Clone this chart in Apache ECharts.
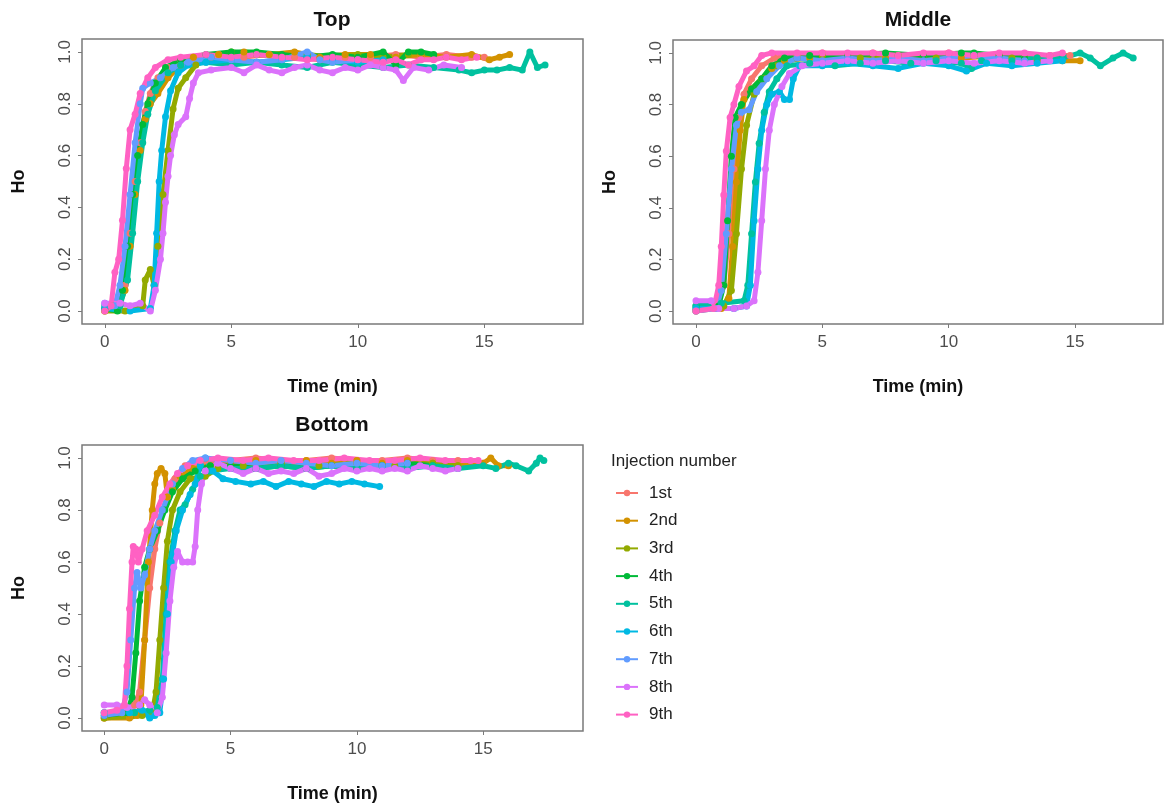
<!DOCTYPE html>
<html>
<head>
<meta charset="utf-8">
<script src="https://cdn.jsdelivr.net/npm/echarts@6.0.0/dist/echarts.min.js"></script>
<style>
  html, body { margin: 0; padding: 0; background: #fff; }
  #chart { width: 1165px; height: 806px; }
</style>
</head>
<body>
<div id="chart"></div>
<script>
// injection labels and ggplot hue colours
const names = ['1st', '2nd', '3rd', '4th', '5th', '6th', '7th', '8th', '9th']
const colors = ['#F8766D', '#D39200', '#93AA00', '#00BA38', '#00C19F', '#00B9E3', '#619CFF', '#DB72FB', '#FF61C3']
const xTicks = [0, 5, 10, 15]
const yTicks = [0, 0.2, 0.4, 0.6, 0.8, 1.0]

// ---- Top ----  [time (min), Ho]
const top1 = [[0,0.01],[0.3,0.02],[0.6,0.03],[0.8,0.1],[1.0,0.3],[1.2,0.5],[1.4,0.65],[1.6,0.77],[1.8,0.84],[2.1,0.9],[2.5,0.94],[3.0,0.97],[3.5,0.98],[4.5,0.99],[5.5,0.98],[6.5,0.99],[7.5,0.98],[8.5,0.97],[9.5,0.98],[10.5,0.98],[11.5,0.99],[12.5,0.98],[13.5,0.99],[14.5,0.98],[15.0,0.98]]
const top2 = [[0,0],[0.5,0.01],[0.8,0.08],[1.0,0.25],[1.2,0.45],[1.4,0.62],[1.6,0.74],[1.8,0.8],[2.1,0.84],[2.5,0.9],[3.0,0.95],[3.5,0.98],[4.5,0.99],[5.5,1.0],[6.5,0.99],[7.5,1.0],[8.5,0.98],[9.5,0.99],[10.5,0.99],[11.5,0.98],[12.5,0.99],[13.5,0.98],[14.5,0.99],[15.2,0.97],[15.6,0.98],[16.0,0.99]]
const top3 = [[0,0],[0.8,0],[1.5,0.02],[1.6,0.12],[1.8,0.16],[1.95,0.1],[2.1,0.25],[2.3,0.45],[2.5,0.62],[2.7,0.78],[2.9,0.86],[3.2,0.9],[3.6,0.95],[4.2,0.98],[5,1.0],[6,0.99],[7,0.98],[8,0.99],[9,0.98],[10,0.99],[11,0.98],[12,0.99]]
const top4 = [[0,0.01],[0.5,0.0],[0.7,0.08],[0.9,0.25],[1.1,0.45],[1.3,0.6],[1.5,0.72],[1.7,0.8],[2.0,0.88],[2.4,0.94],[3.0,0.97],[4.0,0.99],[5.0,1.0],[6.0,1.0],[7.0,0.99],[8.0,0.98],[9.0,0.99],[10.0,0.98],[11.0,1.0],[11.5,0.95],[12.0,1.0],[12.5,1.0],[13.0,0.99]]
const top5 = [[0,0.02],[0.6,0.02],[0.9,0.12],[1.1,0.3],[1.3,0.5],[1.5,0.65],[1.7,0.76],[2.0,0.85],[2.5,0.92],[3.0,0.95],[4,0.96],[5,0.95],[6,0.96],[7,0.95],[8,0.94],[9,0.96],[10,0.95],[11,0.94],[12,0.95],[13,0.94],[14,0.93],[14.5,0.92],[15,0.93],[15.5,0.93],[16,0.94],[16.5,0.93],[16.8,1.0],[17.1,0.94],[17.4,0.95]]
const top6 = [[0,0.01],[1.0,0.0],[1.8,0.01],[1.95,0.1],[2.05,0.3],[2.15,0.5],[2.25,0.62],[2.4,0.75],[2.6,0.85],[2.9,0.92],[3.3,0.95],[4,0.96],[5,0.97],[6,0.96],[7,0.97],[8,0.98],[9,0.97],[10,0.96],[11,0.97]]
const top7 = [[0,0.03],[0.4,0.02],[0.6,0.1],[0.8,0.25],[1.0,0.45],[1.2,0.65],[1.4,0.8],[1.5,0.86],[1.8,0.88],[2.2,0.9],[2.7,0.94],[3.3,0.96],[4.2,0.98],[5,0.97],[6,0.96],[7,0.97],[8,1.0],[8.5,0.97],[9,0.96],[10,0.97]]
const top8 = [[0,0.03],[0.6,0.03],[1.0,0.02],[1.4,0.03],[1.8,0.0],[2.0,0.08],[2.2,0.2],[2.3,0.3],[2.4,0.42],[2.5,0.52],[2.6,0.6],[2.75,0.68],[2.9,0.72],[3.2,0.75],[3.35,0.82],[3.5,0.88],[3.7,0.92],[4.2,0.93],[5,0.94],[5.5,0.92],[6,0.95],[6.5,0.93],[7,0.92],[7.5,0.94],[8,0.95],[8.5,0.93],[9,0.92],[9.5,0.94],[10,0.93],[10.5,0.95],[11,0.94],[11.5,0.93],[11.8,0.89],[12.2,0.94],[12.8,0.93],[13.4,0.95],[14.1,0.94]]
const top9 = [[0,0.0],[0.25,0.02],[0.4,0.15],[0.55,0.2],[0.7,0.35],[0.85,0.55],[1.0,0.7],[1.2,0.76],[1.4,0.84],[1.7,0.9],[2.0,0.94],[2.5,0.97],[3,0.98],[4,0.99],[5,0.98],[6,0.99],[7,0.98],[8,0.97],[9,0.98],[10,0.97],[11,0.96],[11.5,0.97],[12,0.95],[12.5,0.97],[13,0.97],[13.5,0.98],[14.1,0.97],[14.7,0.98]]

// ---- Middle ----
const mid1 = [[0,0.0],[0.8,0.01],[1.1,0.1],[1.3,0.3],[1.5,0.55],[1.7,0.75],[1.9,0.84],[2.2,0.9],[2.6,0.95],[3.1,0.98],[4,0.99],[5,1.0],[6,0.99],[7,1.0],[8,0.99],[9,0.99],[10,1.0],[11,0.99],[12,0.99],[13,0.98],[14,0.99],[14.8,0.99]]
const mid2 = [[0,0.01],[1.0,0.01],[1.3,0.05],[1.45,0.25],[1.6,0.5],[1.75,0.7],[1.9,0.82],[2.2,0.86],[2.6,0.9],[3.0,0.94],[3.5,0.97],[4.5,0.98],[6,0.99],[7.5,0.98],[9,0.99],[10.5,0.98],[12,0.99],[13.5,0.98],[14.5,0.97],[15.2,0.97]]
const mid3 = [[0,0.0],[1.1,0.02],[1.4,0.08],[1.6,0.3],[1.8,0.55],[2.0,0.72],[2.3,0.84],[2.7,0.9],[3.2,0.95],[4,0.98],[5,0.99],[6.5,0.98],[8,0.99],[9.5,0.98],[11,0.99],[12.5,0.98],[13.5,0.97]]
const mid4 = [[0,0.02],[0.9,0.02],[1.1,0.1],[1.25,0.35],[1.4,0.6],[1.55,0.75],[1.8,0.8],[2.2,0.86],[2.6,0.9],[3.0,0.95],[3.5,0.98],[4.5,0.99],[6,0.99],[7.5,1.0],[9,0.99],[10.5,1.0],[11,1.0],[12,0.99],[13,0.98]]
const mid5 = [[0,0.02],[1.0,0.03],[1.9,0.04],[2.05,0.1],[2.2,0.3],[2.35,0.5],[2.5,0.65],[2.7,0.77],[2.9,0.85],[3.2,0.9],[3.6,0.95],[4.5,0.96],[5.5,0.95],[6.5,0.96],[7.5,0.97],[8.5,0.96],[9.5,0.97],[10.5,0.96],[10.9,0.94],[11.3,0.97],[12.5,0.97],[13.5,0.98],[14.5,0.98],[15.2,1.0],[15.6,0.98],[16.0,0.95],[16.5,0.98],[16.9,1.0],[17.3,0.98]]
const mid6 = [[0,0.01],[1.5,0.01],[2.0,0.02],[2.15,0.1],[2.3,0.35],[2.45,0.55],[2.6,0.7],[2.8,0.8],[3.0,0.84],[3.3,0.85],[3.5,0.82],[3.7,0.82],[3.85,0.9],[4.1,0.95],[5,0.95],[6,0.96],[7,0.95],[8,0.94],[9,0.96],[10,0.95],[10.7,0.93],[11.5,0.96],[12.5,0.95],[13.5,0.96],[14.5,0.97]]
const mid7 = [[0,0.0],[0.8,0.01],[1.0,0.08],[1.2,0.3],[1.4,0.55],[1.6,0.72],[1.8,0.77],[2.1,0.78],[2.4,0.85],[2.8,0.9],[3.3,0.95],[4,0.98],[5,0.97],[6,0.98],[7,0.97],[8,0.98],[9,0.97],[10,0.98],[11,0.99],[12,0.98],[13,0.97]]
const mid8 = [[0,0.04],[0.6,0.04],[0.9,0.01],[1.5,0.01],[2.0,0.02],[2.3,0.04],[2.45,0.15],[2.6,0.35],[2.75,0.55],[2.9,0.7],[3.1,0.8],[3.4,0.87],[3.7,0.92],[4.2,0.95],[5,0.96],[6,0.97],[7,0.96],[8,0.97],[9,0.96],[10,0.97],[11,0.96],[12,0.97],[13,0.96],[14,0.97]]
const mid9 = [[0,0.0],[0.7,0.01],[0.9,0.1],[1.0,0.25],[1.1,0.45],[1.2,0.62],[1.35,0.75],[1.5,0.8],[1.7,0.87],[2.0,0.93],[2.3,0.95],[2.6,0.99],[3,1.0],[4,1.0],[5,1.0],[6,1.0],[7,1.0],[8,0.99],[9,1.0],[10,1.0],[11,0.99],[12,1.0],[13,1.0],[14,0.99],[14.5,1.0]]

// ---- Bottom ----
const bot1 = [[0,0.0],[1.0,0.01],[1.2,0.05],[1.4,0.1],[1.6,0.3],[1.8,0.5],[2.0,0.65],[2.2,0.75],[2.5,0.85],[2.8,0.92],[3.2,0.97],[4,0.99],[5,0.99],[6,1.0],[7,0.99],[8,0.99],[9,1.0],[10,0.99],[11,0.99],[12,1.0],[13,0.99],[14,0.99],[15,0.98]]
const bot2 = [[0,0.0],[1.0,0.0],[1.3,0.01],[1.45,0.05],[1.6,0.3],[1.75,0.6],[1.9,0.8],[2.0,0.9],[2.1,0.94],[2.25,0.96],[2.4,0.94],[2.5,0.85],[2.7,0.88],[3.0,0.93],[3.5,0.96],[4.2,0.97],[5,0.98],[6,0.99],[7,0.98],[8,0.99],[9,0.98],[10,0.99],[11,0.98],[12,0.99],[13,0.98],[14,0.97],[15,0.98],[15.3,1.0],[15.6,0.97],[16.0,0.97]]
const bot3 = [[0,0.0],[1.5,0.01],[1.9,0.02],[2.05,0.1],[2.2,0.3],[2.35,0.5],[2.5,0.68],[2.7,0.8],[3.0,0.87],[3.4,0.92],[4,0.93],[4.5,0.96],[5.5,0.97],[7,0.98],[8.5,0.97],[10,0.98],[11.5,0.97],[13,0.98],[14,0.97]]
const bot4 = [[0,0.01],[0.9,0.02],[1.1,0.08],[1.25,0.25],[1.4,0.45],[1.6,0.58],[1.8,0.65],[2.1,0.72],[2.4,0.8],[2.7,0.87],[3.1,0.92],[3.6,0.95],[4.2,0.97],[5,0.97],[6,0.96],[7,0.97],[8,0.96],[9,0.97],[10,0.96],[11,0.97],[12,0.98],[13,0.97]]
const bot5 = [[0,0.02],[1.2,0.02],[1.8,0.03],[2.1,0.04],[2.3,0.15],[2.45,0.4],[2.6,0.6],[2.8,0.72],[3.0,0.8],[3.2,0.82],[3.5,0.88],[3.8,0.93],[4.2,0.95],[5,0.96],[6,0.96],[7,0.97],[8,0.96],[9,0.97],[10,0.96],[11,0.97],[12,0.96],[13,0.97],[14,0.96],[15,0.97],[15.5,0.96],[16,0.98],[16.3,0.97],[16.8,0.95],[17.1,0.98],[17.25,1.0],[17.4,0.99]]
const bot6 = [[0,0.02],[1.0,0.02],[1.5,0.03],[1.8,0.0],[2.0,0.01],[2.2,0.02],[2.35,0.15],[2.5,0.4],[2.65,0.6],[2.85,0.72],[3.1,0.8],[3.4,0.86],[3.6,0.9],[3.8,0.97],[4.0,1.0],[4.3,0.95],[4.7,0.92],[5.2,0.91],[5.8,0.9],[6.3,0.91],[6.8,0.89],[7.3,0.91],[7.8,0.9],[8.3,0.89],[8.8,0.91],[9.3,0.9],[9.8,0.91],[10.3,0.9],[10.9,0.89]]
const bot7 = [[0,0.01],[0.7,0.02],[0.9,0.1],[1.05,0.3],[1.2,0.5],[1.3,0.56],[1.45,0.5],[1.6,0.55],[1.8,0.65],[2.0,0.72],[2.3,0.8],[2.7,0.9],[3.1,0.96],[3.5,0.99],[4,1.0],[5,0.99],[6,0.98],[7,0.99],[8,0.98],[9,0.97],[10,0.98],[11,0.97],[12,0.98]]
const bot8 = [[0,0.05],[0.5,0.05],[0.9,0.04],[1.4,0.05],[1.6,0.07],[1.8,0.05],[2.1,0.02],[2.3,0.08],[2.45,0.25],[2.6,0.45],[2.75,0.58],[2.9,0.64],[3.1,0.6],[3.3,0.6],[3.5,0.6],[3.6,0.66],[3.7,0.8],[3.85,0.9],[4.0,0.95],[4.5,0.98],[5,0.96],[5.5,0.94],[6,0.96],[6.5,0.94],[7,0.95],[7.5,0.94],[8,0.96],[8.5,0.93],[9,0.94],[9.5,0.96],[10,0.95],[10.5,0.96],[11,0.95],[11.5,0.96],[12,0.95],[12.5,0.97],[13,0.96],[13.5,0.95],[14,0.96]]
const bot9 = [[0,0.02],[0.5,0.03],[0.8,0.05],[0.9,0.2],[1.0,0.42],[1.1,0.6],[1.15,0.66],[1.25,0.65],[1.35,0.6],[1.5,0.65],[1.7,0.72],[2.0,0.78],[2.3,0.85],[2.6,0.9],[2.9,0.94],[3.3,0.97],[3.8,0.99],[4.5,1.0],[5.5,0.99],[6.5,1.0],[7.5,0.99],[8.5,0.99],[9.5,1.0],[10.5,0.99],[11.5,0.99],[12.5,1.0],[13.5,0.99],[14.5,0.99],[14.8,0.99]]

const panels = [
  [top1, top2, top3, top4, top5, top6, top7, top8, top9],
  [mid1, mid2, mid3, mid4, mid5, mid6, mid7, mid8, mid9],
  [bot1, bot2, bot3, bot4, bot5, bot6, bot7, bot8, bot9],
]

const font = '"Liberation Sans", Arial, sans-serif'
const boxColor = '#7a7a7a'
const tickColor = '#4d4d4d'

const grids = [
  { left: 82, top: 39, width: 501, height: 285 },
  { left: 673, top: 40, width: 490, height: 284 },
  { left: 82, top: 445, width: 501, height: 286 },
]
const xRanges = [[-0.9, 18.9], [-0.91, 18.48], [-0.88, 18.95]]

const xAxis = grids.map((g, i) => ({
  type: 'value',
  gridIndex: i,
  min: xRanges[i][0],
  max: xRanges[i][1],
  name: 'Time (min)',
  nameLocation: 'middle',
  nameGap: 54,
  nameTextStyle: { fontFamily: font, fontWeight: 'bold', fontSize: 18, color: '#111' },
  axisLine: { show: false, onZero: false },
  splitLine: { show: false },
  axisTick: { show: true, length: 4, customValues: xTicks, lineStyle: { color: boxColor } },
  axisLabel: { customValues: xTicks, margin: 10, fontFamily: font, fontSize: 17, color: tickColor },
}))

const yAxis = grids.map((g, i) => ({
  type: 'value',
  gridIndex: i,
  min: -0.05,
  max: 1.05,
  name: 'Ho',
  nameLocation: 'middle',
  nameRotate: 90,
  nameGap: 54,
  nameTextStyle: { fontFamily: font, fontWeight: 'bold', fontSize: 18, color: '#111' },
  axisLine: { show: false, onZero: false },
  splitLine: { show: false },
  axisTick: { show: true, length: 4, customValues: yTicks, lineStyle: { color: boxColor } },
  axisLabel: {
    customValues: yTicks,
    rotate: 90,
    margin: 8,
    fontFamily: font,
    fontSize: 17,
    color: tickColor,
    formatter: (v) => v.toFixed(1),
  },
}))

const series = []
panels.forEach((panel, gi) => {
  panel.forEach((d, i) => {
    series.push({
      name: names[i],
      type: 'line',
      xAxisIndex: gi,
      yAxisIndex: gi,
      data: d,
      symbol: 'circle',
      symbolSize: 7,
      showSymbol: true,
      color: colors[i],
      lineStyle: { width: 5, color: colors[i] },
      itemStyle: { color: colors[i] },
      emphasis: { disabled: true },
    })
  })
})

const option = {
  animation: false,
  backgroundColor: '#fff',
  grid: grids.map((g) => ({ ...g, show: true, borderColor: boxColor, borderWidth: 1.5, backgroundColor: '#fff' })),
  xAxis,
  yAxis,
  legend: {
    data: names,
    orient: 'vertical',
    left: 615,
    top: 484,
    padding: 0,
    itemWidth: 22,
    itemHeight: 8,
    itemGap: 9.7,
    lineStyle: { width: 2 },
    textStyle: { fontFamily: font, fontSize: 17, color: '#222', lineHeight: 18, padding: [0, 0, 0, 6] },
    selectedMode: false,
  },
  graphic: [
    { type: 'text', x: 332, y: 20, style: { text: 'Top', align: 'center', verticalAlign: 'middle', font: 'bold 21px ' + font, fill: '#111' } },
    { type: 'text', x: 918, y: 20, style: { text: 'Middle', align: 'center', verticalAlign: 'middle', font: 'bold 21px ' + font, fill: '#111' } },
    { type: 'text', x: 332, y: 425, style: { text: 'Bottom', align: 'center', verticalAlign: 'middle', font: 'bold 21px ' + font, fill: '#111' } },
    { type: 'text', x: 611, y: 461, style: { text: 'Injection number', align: 'left', verticalAlign: 'middle', font: '17px ' + font, fill: '#222' } },
  ],
  series,
}

const myChart = echarts.init(document.getElementById('chart'))
myChart.setOption(option)
</script>
</body>
</html>
